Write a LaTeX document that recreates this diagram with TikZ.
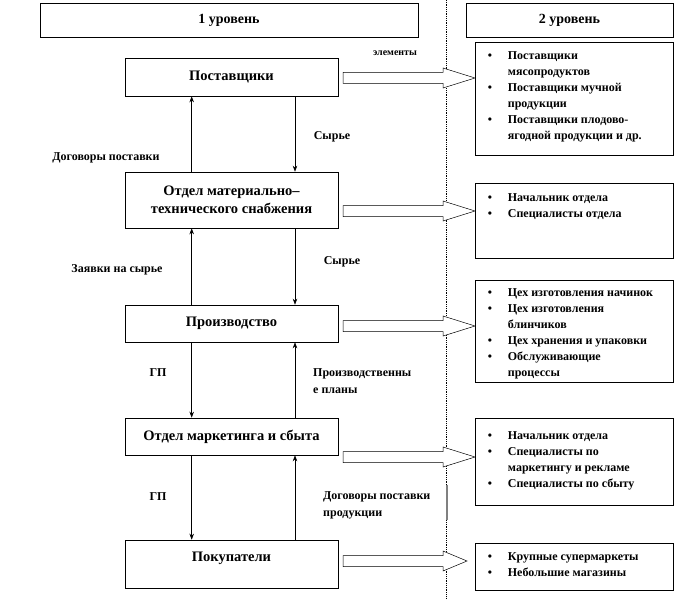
\documentclass[tikz,border=0pt]{standalone}
\usepackage{fontspec}
\setmainfont{Liberation Serif}
\usetikzlibrary{arrows.meta,calc}
\newcommand\bul{\makebox[20pt][l]{•}}
\newcommand\ind{\hspace*{20pt}}
\newcommand\blkarrow[2]{% #1 = centre y, #2 = tip x
  \draw[blk] (343,#1-5.5) -- (443,#1-5.5) -- (443,#1-10) -- (#2,#1) -- (443,#1+10) -- (443,#1+5.5) -- (343,#1+5.5) -- cycle;}
\begin{document}
\begin{tikzpicture}[x=1pt,y=-1pt,
  lbox/.style={draw, line width=0.6pt, minimum width=213pt, inner sep=0, align=center, font=\fontsize{14.5}{18}\selectfont\bfseries},
  ltext/.style={inner sep=0, font=\fontsize{14.5}{18}\selectfont\bfseries},
  hbox/.style={draw, line width=0.6pt, inner sep=0, font=\fontsize{14}{16}\selectfont\bfseries},
  rbox/.style={draw, line width=0.6pt, minimum width=198pt, inner sep=0},
  rtext/.style={anchor=north west, inner sep=0, align=left, font=\fontsize{12}{16}\selectfont\bfseries},
  lbl/.style={inner sep=0, align=left, font=\fontsize{12}{17}\selectfont\bfseries},
  flow/.style={-{Stealth[length=6pt,width=4.5pt]}, line width=0.6pt},
  blk/.style={draw, fill=white, line width=0.5pt}]
\useasboundingbox (0,0) rectangle (677,599);

% divider
\draw[densely dotted, line width=0.8pt] (446,0) -- (446,599);
\draw[gray, line width=1.2pt] (447,485) -- (447,520);

% headers
\node[hbox, minimum width=378pt, minimum height=34pt] (h1) at (229,20) {1 уровень};
\node[hbox, minimum width=207pt, minimum height=34pt] (h2) at (569.5,20) {2 уровень};

% left column
\node[lbox, minimum height=38pt] (sup) at (231.5,77) {Поставщики};
\node[lbox, minimum height=56pt] (mts) at (231.5,200) {Отдел материально–\\технического  снабжения};
\node[lbox, minimum height=37pt] (prod) at (231.5,323.5) {Производство};
\node[lbox, minimum height=37pt] (mkt) at (231.5,436.5) {Отдел маркетинга и сбыта};
\node[lbox, minimum height=48pt] (buy) at (231.5,564) {};
\node[ltext] (buyt) at (231.5,558) {Покупатели};

\coordinate (L) at (191.7,0);
\coordinate (R) at (295,0);

\draw[flow] (mts.north -| L) -- (sup.south -| L);
\draw[flow] (sup.south -| R) -- (mts.north -| R);
\draw[flow] (prod.north -| L) -- (mts.south -| L);
\draw[flow] (mts.south -| R) -- (prod.north -| R);
\draw[flow] (prod.south -| L) -- (mkt.north -| L);
\draw[flow] (mkt.north -| R) -- (prod.south -| R);
\draw[flow] (mkt.south -| L) -- (buy.north -| L);
\draw[flow] (buy.north -| R) -- (mkt.south -| R);

% labels
\node[lbl, font=\fontsize{10}{12}\selectfont\bfseries] (lel) at (395,53) {элементы};
\node[lbl] (l1) at (332,137) {Сырье};
\node[lbl] (l2) at (106,158) {Договоры поставки};
\node[lbl] (l3) at (117,270) {Заявки на сырье};
\node[lbl] (l4) at (342,262) {Сырье};
\node[lbl] (l5) at (158,373) {ГП};
\node[lbl, anchor=west] (l6) at (313,381.5) {Производственны\\е планы};
\node[lbl] (l7) at (158,497) {ГП};
\node[lbl, anchor=west] (l8) at (323,505) {Договоры поставки\\продукции};

% block arrows
\blkarrow{78}{475}
\blkarrow{211}{475}
\blkarrow{326}{475}
\blkarrow{457}{475}
\blkarrow{561}{467}

% right column
\node[rbox, minimum height=113pt] (r1) at (574,98.5) {};
\node[rbox, minimum height=75pt] (r2) at (574,220.5) {};
\node[rbox, minimum height=102pt] (r3) at (574,331) {};
\node[rbox, minimum height=87pt] (r4) at (574,461.5) {};
\node[rbox, minimum height=47pt] (r5) at (574,566.5) {};

\node[rtext] (r1t) at ($(r1.north west)+(13,10)$) {\bul Поставщики\\ \ind мясопродуктов\\ \bul Поставщики мучной\\ \ind продукции\\ \bul Поставщики плодово-\\ \ind ягодной продукции и др.};
\node[rtext] (r2t) at ($(r2.north west)+(13,11)$) {\bul Начальник отдела\\ \bul Специалисты отдела};
\node[rtext] (r3t) at ($(r3.north west)+(13,9)$) {\bul Цех изготовления начинок\\ \bul Цех изготовления\\ \ind блинчиков\\ \bul Цех хранения и упаковки\\ \bul Обслуживающие\\ \ind процессы};
\node[rtext] (r4t) at ($(r4.north west)+(13,14)$) {\bul Начальник отдела\\ \bul Специалисты по\\ \ind маркетингу и рекламе\\ \bul Специалисты по сбыту};
\node[rtext] (r5t) at ($(r5.north west)+(13,10)$) {\bul Крупные супермаркеты\\ \bul Небольшие магазины};
\end{tikzpicture}
\end{document}
